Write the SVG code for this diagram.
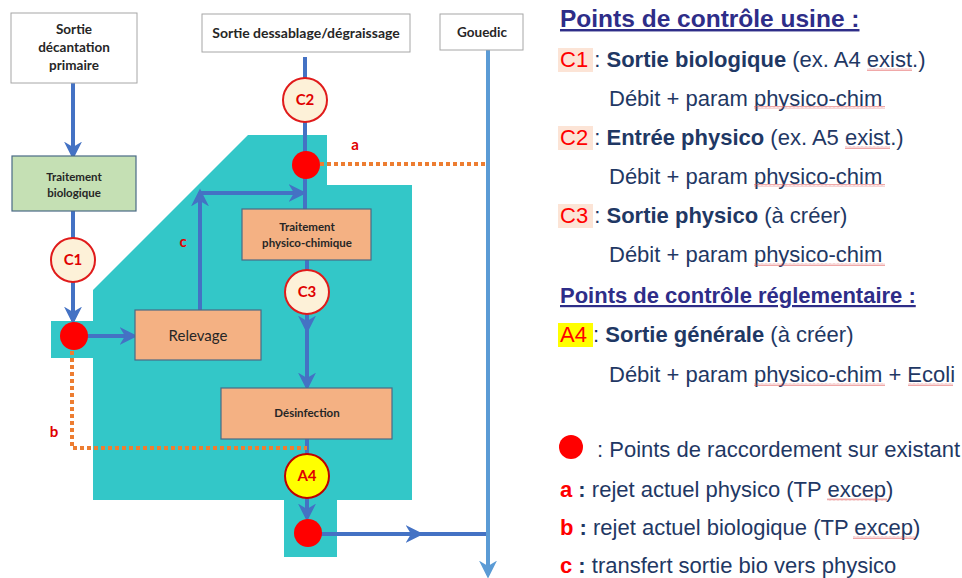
<svg xmlns="http://www.w3.org/2000/svg" width="962" height="578" viewBox="0 0 962 578">
<style>
.bx{fill:#fff;stroke:#a6a6a6;stroke-width:1}
.bio{fill:#c5e0b4;stroke:#4a6a85;stroke-width:1.2}
.org{fill:#f4b183;stroke:#4a6a85;stroke-width:1.2}
.t{font-family:Lato,"Open Sans",sans-serif;fill:#262626;text-anchor:middle}
.tb{font-weight:bold}
.pt{fill:#fdf1d8;stroke:#e01b1b;stroke-width:2}
.pa{fill:#ffff00;stroke:#c00000;stroke-width:2}
.pl{font-family:Lato,"Open Sans",sans-serif;font-weight:bold;font-size:15px;fill:#e00000;text-anchor:middle}
.dot{fill:#ff0000}
.ln{stroke:#4472c4;stroke-width:4;fill:none}
.ln2{stroke:#5b9bd5;stroke-width:4;fill:none}
.or{stroke:#ed7d31;stroke-width:4;fill:none;stroke-dasharray:4 3}
.lab{font-family:Lato,"Open Sans",sans-serif;font-weight:bold;font-size:15px;fill:#e00000;text-anchor:middle}
.r{font-family:"Liberation Sans",Arial,sans-serif;font-size:22px;fill:#1f3864}
.rb{font-weight:bold}
.red{fill:#ff0000}
.hd{font-family:"Liberation Sans",Arial,sans-serif;font-weight:bold;fill:#2e2d88;text-decoration:underline}
.sq{fill:url(#wave)}
</style>
<defs>
<marker id="ah" viewBox="0 0 10 10" refX="8" refY="5" markerWidth="4.5" markerHeight="4.5" orient="auto" markerUnits="strokeWidth">
<path d="M0,0 L10,5 L0,10 L3,5 Z" fill="#4472c4"/>
</marker>
<marker id="ah2" viewBox="0 0 10 10" refX="8" refY="5" markerWidth="4.5" markerHeight="4.5" orient="auto" markerUnits="strokeWidth">
<path d="M0,0 L10,5 L0,10 L3,5 Z" fill="#5b9bd5"/>
</marker>
<pattern id="wave" width="4" height="3" patternUnits="userSpaceOnUse">
<path d="M0,2.5 L1,0.5 L2,2.5 L3,0.5 L4,2.5" stroke="#e05050" stroke-width="0.5" fill="none"/>
</pattern>
</defs>

<path id="zone" d="M248,135 L327,135 L327,185 L412,185 L412,500 L337,500 L337,557 L284,557 L284,500 L93,500 L93,358 L51,358 L51,321 L93,321 L93,290 Z" fill="#33c7c8"/>

<g id="connectors">
<line class="ln" x1="73" y1="83" x2="73" y2="156" marker-end="url(#ah)"/>
<line class="ln" x1="73" y1="211" x2="73" y2="238"/>
<line class="ln" x1="73" y1="282" x2="73" y2="321" marker-end="url(#ah)"/>
<line class="ln" x1="86" y1="336" x2="134" y2="336" marker-end="url(#ah)"/>
<line class="ln" x1="200" y1="310" x2="200" y2="192" marker-end="url(#ah)"/>
<line class="ln" x1="200" y1="193" x2="303" y2="193" marker-end="url(#ah)"/>
<line class="ln" x1="305" y1="57" x2="305" y2="209"/>
<line class="ln" x1="307" y1="260" x2="307" y2="270"/>
<line class="ln" x1="307" y1="314" x2="307" y2="330" marker-end="url(#ah)"/>
<line class="ln" x1="307" y1="328" x2="307" y2="387" marker-end="url(#ah)"/>
<line class="ln" x1="307" y1="439" x2="307" y2="454"/>
<line class="ln" x1="307" y1="498" x2="307" y2="518" marker-end="url(#ah)"/>
<line class="ln" x1="320" y1="534" x2="420" y2="534" marker-end="url(#ah)"/>
<line class="ln" x1="415" y1="534" x2="488" y2="534"/>
<line class="ln2" x1="488" y1="50" x2="488" y2="575" marker-end="url(#ah2)"/>
<path class="or" d="M320,164 L486,164"/>
<path class="or" d="M72,351 L72,448 L307,448"/>
</g>

<g id="n-decantation">
<rect class="bx" x="11" y="13" width="126" height="70"/>
<text class="t tb" font-size="13.5" x="74" y="34">Sortie</text>
<text class="t tb" font-size="13.5" x="74" y="52">décantation</text>
<text class="t tb" font-size="13.5" x="74" y="70">primaire</text>
</g>
<g id="n-dessablage">
<rect class="bx" x="202" y="14" width="208" height="38"/>
<text class="t tb" font-size="14" x="306" y="38">Sortie dessablage/dégraissage</text>
</g>
<g id="n-gouedic">
<rect class="bx" x="440" y="14" width="83" height="36"/>
<text class="t tb" font-size="13.5" x="482" y="37">Gouedic</text>
</g>
<g id="n-bio">
<rect class="bio" x="12" y="156" width="124" height="55"/>
<text class="t tb" font-size="11.5" x="74" y="181">Traitement</text>
<text class="t tb" font-size="11.5" x="74" y="197">biologique</text>
</g>
<g id="n-physico">
<rect class="org" x="242" y="209" width="129" height="51"/>
<text class="t tb" font-size="11.5" x="307" y="231">Traitement</text>
<text class="t tb" font-size="11.5" x="307" y="247">physico-chimique</text>
</g>
<g id="n-relevage">
<rect class="org" x="135" y="310" width="126" height="50"/>
<text class="t" font-size="15" x="198" y="341">Relevage</text>
</g>
<g id="n-desinfection">
<rect class="org" x="221" y="388" width="171" height="51"/>
<text class="t tb" font-size="11.5" x="307" y="417">Désinfection</text>
</g>

<g id="n-c1"><circle class="pt" cx="73" cy="260" r="22"/><text class="pl" x="73" y="265">C1</text></g>
<g id="n-c2"><circle class="pt" cx="305" cy="100" r="22"/><text class="pl" x="305" y="105">C2</text></g>
<g id="n-c3"><circle class="pt" cx="307" cy="292" r="22"/><text class="pl" x="307" y="297">C3</text></g>
<g id="n-a4"><circle class="pa" cx="307" cy="476" r="22"/><text class="pl" x="307" y="481">A4</text></g>
<g id="n-dot1"><circle class="dot" cx="74" cy="336" r="14"/></g>
<g id="n-dot2"><circle class="dot" cx="306" cy="165" r="14"/></g>
<g id="n-dot3"><circle class="dot" cx="308" cy="533" r="14"/></g>

<text class="lab" x="355" y="150">a</text>
<text class="lab" x="54" y="437">b</text>
<text class="lab" x="183" y="247">c</text>

<g id="legend">
<text class="hd" font-size="24.5" x="560" y="27">Points de contrôle usine :</text>
<rect x="558" y="48" width="35" height="24" fill="#fce4d6"/>
<text class="r" x="560" y="67"><tspan class="red">C1 </tspan>: <tspan class="rb">Sortie biologique</tspan> (ex. A4 exist.)</text>
<text class="r" x="609" y="106">Débit + param physico-chim</text>
<rect x="558" y="126" width="35" height="24" fill="#fce4d6"/>
<text class="r" x="560" y="145"><tspan class="red">C2 </tspan>: <tspan class="rb">Entrée physico</tspan> (ex. A5 exist.)</text>
<text class="r" x="609" y="184">Débit + param physico-chim</text>
<rect x="558" y="204" width="35" height="24" fill="#fce4d6"/>
<text class="r" x="560" y="223"><tspan class="red">C3 </tspan>: <tspan class="rb">Sortie physico</tspan> (à créer)</text>
<text class="r" x="609" y="262">Débit + param physico-chim</text>
<text class="hd" font-size="22" x="560" y="303">Points de contrôle réglementaire :</text>
<rect x="558" y="323" width="35" height="24" fill="#ffff00"/>
<text class="r" x="560" y="342"><tspan class="red">A4 </tspan>: <tspan class="rb">Sortie générale</tspan> (à créer)</text>
<text class="r" x="609" y="382">Débit + param physico-chim + Ecoli</text>
<circle cx="571" cy="447" r="12" fill="#ff0000"/>
<text class="r" x="597" y="457">: Points de raccordement sur existant</text>
<text class="r" x="560" y="497"><tspan class="red rb">a</tspan><tspan class="rb"> :</tspan> rejet actuel physico (TP excep)</text>
<text class="r" x="560" y="535"><tspan class="red rb">b</tspan><tspan class="rb"> :</tspan> rejet actuel biologique (TP excep)</text>
<text class="r" x="560" y="573"><tspan class="red rb">c</tspan><tspan class="rb"> :</tspan> transfert sortie bio vers physico</text>
<rect class="sq" x="867" y="68" width="45" height="3"/>
<rect class="sq" x="754" y="106" width="131" height="3"/>
<rect class="sq" x="845" y="146" width="45" height="3"/>
<rect class="sq" x="754" y="184" width="131" height="3"/>
<rect class="sq" x="754" y="263" width="131" height="3"/>
<rect class="sq" x="754" y="383" width="131" height="3"/>
<rect class="sq" x="908" y="383" width="45" height="3"/>
<rect class="sq" x="827" y="498" width="60" height="3"/>
<rect class="sq" x="853" y="536" width="62" height="3"/>
</g>
</svg>
